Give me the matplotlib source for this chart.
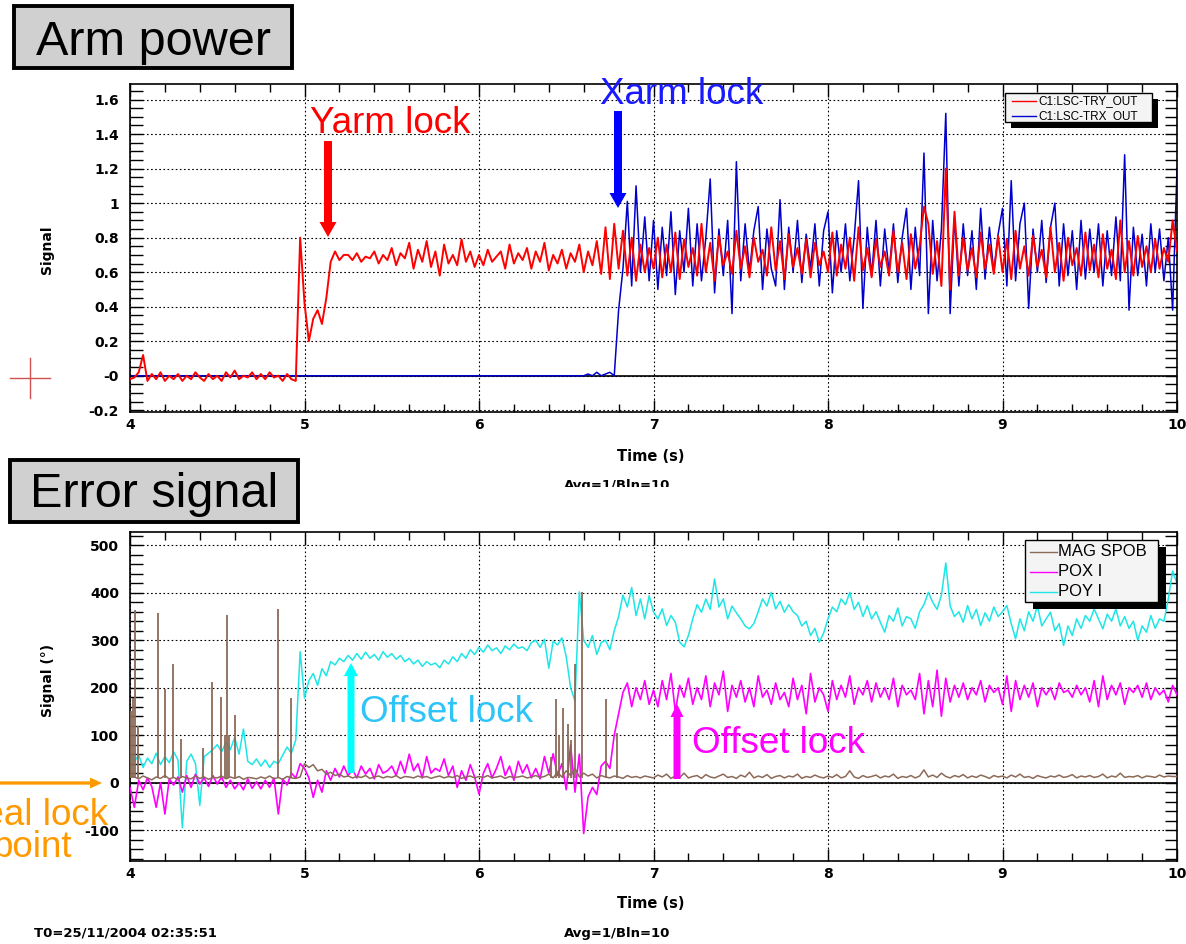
import numpy as np
import matplotlib
matplotlib.use("Agg")
import matplotlib.pyplot as plt
from matplotlib.patches import Rectangle, FancyArrowPatch
from matplotlib.lines import Line2D
from matplotlib.ticker import MultipleLocator
from matplotlib.transforms import Bbox, TransformedBbox

# ---- data (one sample every 0.025 s from 4 s to 10 s) ----
t_start, t_stop = 4.0, 10.0

try_out = [
    # 4 s
    -0.02, -0.01, 0.02, 0.12, -0.03, 0.01, -0.02, 0.02, -0.03, 0.00,
    -0.02, 0.01, -0.03, 0.00, -0.02, 0.02, -0.01, -0.03, 0.01, -0.02,
    0.00, -0.03, 0.02, -0.01, 0.03, -0.02, 0.00, -0.01, 0.02, -0.02,
    0.01, -0.02, 0.02, -0.01, 0.00, -0.03, 0.01, -0.02, -0.03, 0.80,
    # 5 s
    0.42, 0.20, 0.33, 0.38, 0.30, 0.45, 0.66, 0.72, 0.67, 0.70,
    0.70, 0.67, 0.71, 0.66, 0.69, 0.68, 0.72, 0.65, 0.70, 0.67,
    0.74, 0.64, 0.71, 0.68, 0.77, 0.62, 0.73, 0.66, 0.78, 0.63,
    0.72, 0.58, 0.76, 0.65, 0.70, 0.64, 0.79, 0.66, 0.72, 0.63,
    # 6 s
    0.70, 0.64, 0.73, 0.66, 0.69, 0.72, 0.62, 0.76, 0.65, 0.71,
    0.67, 0.74, 0.62, 0.72, 0.66, 0.77, 0.61, 0.70, 0.65, 0.73,
    0.62, 0.71, 0.66, 0.76, 0.60, 0.72, 0.64, 0.78, 0.59, 0.86,
    0.56, 0.88, 0.62, 0.84, 0.58, 0.80, 0.55, 0.76, 0.60, 0.74,
    # 7 s
    0.62, 0.80, 0.57, 0.76, 0.60, 0.83, 0.56, 0.79, 0.63, 0.74,
    0.58, 0.88, 0.60, 0.77, 0.55, 0.81, 0.64, 0.72, 0.59, 0.84,
    0.62, 0.75, 0.57, 0.80, 0.66, 0.73, 0.58, 0.86, 0.61, 0.78,
    0.56, 0.82, 0.63, 0.74, 0.59, 0.79, 0.57, 0.77, 0.64, 0.72,
    # 8 s
    0.60, 0.83, 0.58, 0.76, 0.62, 0.80, 0.55, 0.86, 0.61, 0.74,
    0.57, 0.79, 0.63, 0.72, 0.58, 0.84, 0.60, 0.77, 0.56, 0.82,
    0.62, 0.75, 0.98, 0.88, 0.59, 0.78, 0.52, 1.20, 0.50, 0.95,
    0.58, 0.80, 0.61, 0.74, 0.57, 0.83, 0.62, 0.76, 0.59, 0.81,
    # 9 s
    0.60, 0.79, 0.56, 0.84, 0.62, 0.75, 0.58, 0.81, 0.63, 0.73,
    0.57, 0.86, 0.60, 0.77, 0.55, 0.80, 0.64, 0.74, 0.58, 0.83,
    0.61, 0.76, 0.57, 0.82, 0.62, 0.73, 0.56, 0.90, 0.60, 0.78,
    0.58, 0.81, 0.63, 0.75, 0.60, 0.79, 0.62, 0.74, 0.66, 0.90,
    0.72,
]

trx_out = [0.0] * 104 + [0.0, 0.01, 0.0, 0.02, 0.0, 0.01, 0.02, 0.0] + [
    # 6.8 s
    0.38, 0.62, 1.01, 0.52, 1.10, 0.60, 0.92, 0.55,
    # 7 s
    0.90, 0.50, 0.86, 0.58, 0.95, 0.47, 0.84, 0.60, 0.97, 0.52,
    0.88, 0.55, 0.80, 1.14, 0.48, 0.85, 0.58, 0.90, 0.36, 1.24,
    0.55, 0.88, 0.60, 0.84, 0.98, 0.50, 0.85, 0.62, 0.52, 1.02,
    0.50, 0.86, 0.60, 0.90, 0.54, 0.82, 0.62, 0.88, 0.52, 0.84,
    # 8 s
    0.95, 0.48, 0.84, 0.60, 0.88, 0.55, 0.80, 1.13, 0.39, 0.86,
    0.58, 0.90, 0.52, 0.85, 0.60, 0.88, 0.54, 0.80, 0.97, 0.50,
    0.86, 0.58, 1.29, 0.36, 0.90, 0.55, 0.85, 1.52, 0.36, 0.92,
    0.52, 0.88, 0.58, 0.84, 0.50, 0.97, 0.56, 0.86, 0.60, 0.82,
    # 9 s
    0.97, 0.52, 1.13, 0.55, 0.88, 1.00, 0.39, 0.85, 0.60, 0.90,
    0.54, 0.86, 1.00, 0.52, 0.88, 0.58, 0.84, 0.50, 0.90, 0.56,
    0.85, 0.60, 0.88, 0.52, 0.84, 0.58, 0.92, 0.55, 1.28, 0.38,
    0.86, 0.58, 0.82, 0.52, 0.88, 0.60, 0.85, 0.55, 0.80, 0.38,
    1.20,
]

mag_spob = [
    15, 12, 8, 14, 10, 6, 12, 9, 15, 8,
    11, 7, 13, 10, 8, 14, 9, 12, 7, 11,
    10, 14, 8, 12, 9, 13, 7, 11, 10, 8,
    12, 9, 14, 8, 11, 7, 13, 10, 9, 12,
    40, 32, 38, 25, 28, 18, 22, 15, 18, 12,
    14, 10, 13, 11, 15, 9, 12, 14, 10, 13,
    11, 15, 9, 13, 12, 10, 14, 11, 13, 9,
    12, 14, 10, 13, 11, 15, 9, 12, 14, 10,
    13, 11, 15, 10, 12, 14, 9, 13, 11, 12,
    14, 10, 12, 15, 11, 13, 18, 10, 22, 12,
    25, 15, 30, 12, 20, 14, 18, 10, 15, 12,
    10, 14, 12, 9, 15, 11, 13, 10, 14, 12,
    10, 16, 12, 18, 9, 14, 11, 20, 10, 13,
    15, 9, 17, 12, 10, 14, 18, 11, 13, 9,
    16, 12, 22, 10, 14, 11, 17, 9, 13, 15,
    10, 14, 12, 18, 9, 13, 11, 16, 12, 10,
    14, 11, 17, 10, 13, 25, 12, 9, 15, 11,
    13, 16, 10, 14, 12, 18, 9, 13, 11, 15,
    10, 14, 27, 12, 16, 11, 20, 13, 10, 15,
    12, 17, 10, 14, 11, 16, 13, 9, 15, 12,
    14, 10, 16, 12, 18, 11, 13, 9, 15, 12,
    10, 14, 12, 16, 11, 13, 17, 10, 14, 12,
    15, 11, 13, 18, 10, 14, 12, 20, 11, 13,
    12, 15, 10, 14, 13, 11, 16, 12, 14, 13,
    13,
]

# narrow glitches on MAG SPOB
spike_t = [4.005, 4.015, 4.03, 4.045, 4.16, 4.20, 4.245, 4.29, 4.42, 4.47,
           4.52, 4.545, 4.555, 4.565, 4.60, 4.85, 4.92, 6.41, 6.44, 6.46,
           6.48, 6.51, 6.53, 6.55, 6.59, 6.73, 6.79]
spike_v = [150, 179, 364, 120, 358, 197, 251, 92, 73, 213,
           180, 100, 354, 100, 142, 366, 178, 55, 176, 100,
           157, 124, 90, 250, 402, 176, 104]
spike_base = 10

pox_i = [
    -10, -52, 5, -15, 10, -8, -52, 0, -66, 8,
    -5, 12, -20, 15, -10, 18, -3, 10, -8, 15,
    -3, 12, -10, 5, -13, 0, -15, 8, -12, 2,
    -13, 5, -10, 10, -66, 8, -5, 20, 10, 40,
    30, 10, -31, 5, -20, 25, 5, 30, 12, 35,
    15, 28, 10, 35, 18, 30, 8, 38, 20, 25,
    35, 15, 45, 20, 60, 25, 40, 10, 55, 20,
    30, 24, 50, 15, 35, -10, 25, 5, 38, 12,
    -24, 20, 40, 10, 30, 55, 15, 35, 5, 45,
    20, 38, 10, 30, 8, 55, 20, 61, 15, 40,
    -15, 80, -20, 60, -107, -30, -10, -25, 35, 45,
    30, 100, 145, 190, 210, 160, 200, 175, 215, 165,
    195, 160, 215, 175, 230, 150, 205, 180, 220, 165,
    200, 175, 225, 160, 210, 185, 235, 150, 205, 180,
    215, 170, 200, 160, 225, 180, 195, 165, 210, 175,
    190, 160, 220, 175, 205, 145, 230, 170, 200, 185,
    150, 215, 175, 205, 180, 225, 165, 200, 185, 215,
    170, 210, 180, 200, 175, 220, 160, 205, 185, 195,
    175, 230, 145, 215, 160, 237, 140, 220, 170, 205,
    180, 210, 175, 200, 185, 215, 170, 205, 190, 200,
    165, 225, 150, 215, 175, 205, 180, 210, 160, 200,
    185, 200, 175, 210, 190, 195, 180, 205, 185, 200,
    170, 215, 160, 225, 175, 205, 185, 210, 165, 200,
    190, 205, 180, 210, 175, 200, 185, 195, 170, 205,
    185,
]

poy_i = [
    60, 45, 58, 32, 52, 40, 62, 38, 55, 42,
    65, 48, -95, 45, 60, 40, -48, 55, 62, 70,
    80, 65, 85, 70, 95, 60, 113, 45, 38, 50,
    35, 48, 32, 45, 40, 58, 75, 62, 90, 276,
    178, 215, 230, 205, 240, 225, 255, 248, 262, 255,
    268, 258, 272, 260, 275, 262, 270, 258, 276, 264,
    272, 260, 268, 255, 262, 250, 258, 245, 255, 248,
    252, 242, 258, 250, 265, 255, 272, 262, 280, 270,
    285, 275, 290, 278, 284, 272, 288, 280, 292, 283,
    286, 278, 295, 300, 285, 302, 241, 298, 290, 305,
    265, 200, 172, 402, 300, 285, 310, 270, 295, 300,
    280, 320, 350, 395, 370, 411, 352, 387, 345, 394,
    360, 345, 366, 331, 352, 338, 296, 286, 310, 345,
    375, 359, 387, 365, 429, 370, 387, 345, 372, 358,
    345, 330, 324, 335, 360, 387, 372, 401, 366, 382,
    359, 375, 360, 352, 330, 340, 310, 325, 296, 315,
    345, 370, 360, 387, 375, 401, 365, 380, 350, 373,
    345, 360, 338, 317, 352, 340, 368, 330, 350, 345,
    325, 360, 375, 401, 380, 365, 395, 463, 372, 350,
    360, 338, 373, 345, 365, 331, 358, 340, 370, 350,
    360, 373, 335, 303, 345, 320, 360, 340, 373, 330,
    345, 359, 320, 335, 289, 330, 310, 345, 325, 352,
    340, 366, 345, 324, 355, 340, 366, 330, 350, 325,
    340, 300, 330, 317, 352, 325, 345, 340, 387, 446,
    420,
]

top_yticks = [-0.2, 0, 0.2, 0.4, 0.6, 0.8, 1.0, 1.2, 1.4, 1.6]
top_ylabels = ["-0.2", "-0", "0.2", "0.4", "0.6", "0.8", "1", "1.2", "1.4", "1.6"]
bot_yticks = [-100, 0, 100, 200, 300, 400, 500]
bot_ylabels = ["-100", "0", "100", "200", "300", "400", "500"]
xticks = [4, 5, 6, 7, 8, 9, 10]

t = np.linspace(t_start, t_stop, len(try_out))

# ---- figure ----
W, H = 1186, 944
plt.rcParams["font.family"] = "DejaVu Sans"
fig = plt.figure(figsize=(W / 100, H / 100), dpi=100, facecolor="white")


def fx(x):
    return x / W


def fy(y):
    return 1 - y / H


def make_axes(top, bottom):
    return fig.add_axes([fx(130), fy(bottom), (1177 - 130) / W, (bottom - top) / H])


def style(ax, ylim, yticks, ylabels, yminor):
    ax.set_xlim(t_start, t_stop)
    ax.set_ylim(*ylim)
    ax.set_xticks(xticks, [str(v) for v in xticks])
    ax.set_yticks(yticks, ylabels)
    ax.xaxis.set_minor_locator(MultipleLocator(0.2))
    ax.yaxis.set_minor_locator(MultipleLocator(yminor))
    ax.tick_params(which="both", direction="in", top=True, right=True,
                   width=1.0, color="k")
    ax.tick_params(axis="y", which="both", length=9, labelsize=10, pad=8)
    ax.tick_params(axis="x", which="major", length=9, labelsize=10, pad=4)
    ax.tick_params(axis="x", which="minor", length=6)
    for lab in ax.get_xticklabels() + ax.get_yticklabels():
        lab.set_fontweight("bold")
    ax.set_axisbelow(True)
    ax.grid(True, which="major", color="k", linestyle=(0, (1.5, 2.2)), linewidth=0.8)
    for s in ax.spines.values():
        s.set_linewidth(1.2)
    ax.axhline(0, color="k", lw=1.2, zorder=1.8)


ax1 = make_axes(84, 412)
style(ax1, (-0.21, 1.69), top_yticks, top_ylabels, 0.05)
ax1.plot(t, trx_out, color="#0000cc", lw=1.1, zorder=2)
ax1.plot(t, try_out, color="#ff0000", lw=1.4, zorder=3)

ax2 = make_axes(532, 861)
style(ax2, (-165, 528), bot_yticks, bot_ylabels, 20)
brown = "#8b6a58"
ax2.plot(t, poy_i, color="#1ee6e6", lw=1.1, zorder=2)
ax2.plot(t, pox_i, color="#ff00ff", lw=1.2, zorder=3)
ax2.plot(t, mag_spob, color=brown, lw=1.1, zorder=4)
ax2.vlines(spike_t, spike_base, spike_v, color=brown, lw=1.3, zorder=4)

# axis titles
fig.text(fx(47), fy(250), "Signal", rotation=90, ha="center", va="center",
         fontsize=10, fontweight="bold")
fig.text(fx(48), fy(680), "Signal (°)", rotation=90, ha="center", va="center",
         fontsize=10, fontweight="bold")
fig.text(fx(651), fy(456), "Time (s)", ha="center", va="center", fontsize=10.5, fontweight="bold")
fig.text(fx(651), fy(903), "Time (s)", ha="center", va="center", fontsize=10.5, fontweight="bold")
# second-line caption of the top plot, half hidden behind the lower panel
avg = fig.text(fx(617), fy(485), "Avg=1/Bln=10", ha="center", va="center",
               fontsize=9.5, fontweight="bold")
avg.set_clip_box(TransformedBbox(Bbox([[0, fy(486.5)], [1, 1]]), fig.transFigure))
avg.set_clip_on(True)
fig.text(fx(617), fy(933), "Avg=1/Bln=10", ha="center", va="center", fontsize=9.5, fontweight="bold")
fig.text(fx(125), fy(933), "T0=25/11/2004 02:35:51", ha="center", va="center",
         fontsize=9.5, fontweight="bold")


# legends with black drop shadow
def legend(x0, y0, x1, y1, dx, dy, entries, fs, lx0, lx1, tx):
    fig.add_artist(Rectangle((fx(x0 + dx), fy(y1 + dy)), (x1 - x0) / W, (y1 - y0) / H,
                             transform=fig.transFigure, facecolor="black", edgecolor="none"))
    fig.add_artist(Rectangle((fx(x0), fy(y1)), (x1 - x0) / W, (y1 - y0) / H,
                             transform=fig.transFigure, facecolor="#f4f4f4",
                             edgecolor="black", lw=1.0))
    for yy, col, label in entries:
        fig.add_artist(Line2D([fx(lx0), fx(lx1)], [fy(yy), fy(yy)], color=col, lw=1.0,
                              transform=fig.transFigure))
        fig.text(fx(tx), fy(yy), label, ha="left", va="center", fontsize=fs,
                 family="Liberation Sans")


legend(1005, 93, 1152, 122, 6, 6,
       [(101, "#ff0000", "C1:LSC-TRY_OUT"), (116, "#0000cc", "C1:LSC-TRX_OUT")],
       8.5, 1012, 1036, 1038)
legend(1025, 540, 1158, 602, 8, 7,
       [(552, brown, "MAG SPOB"), (572, "#ff00ff", "POX I"), (592, "#1ee6e6", "POY I")],
       12, 1030, 1057, 1058)

# grey title boxes
for (bx0, by0, bx1, by1), label, base in [((14, 6, 292, 68), "Arm power", 55),
                                          ((10, 460, 298, 522), "Error signal", 507)]:
    fig.add_artist(Rectangle((fx(bx0), fy(by1)), (bx1 - bx0) / W, (by1 - by0) / H,
                             transform=fig.transFigure, facecolor="#d0d0d0",
                             edgecolor="black", lw=2.8))
    fig.text(fx((bx0 + bx1) / 2), fy(base), label, ha="center", va="baseline",
             fontsize=35, family="Liberation Sans")


# annotation arrows
def arrow(x0, y0, x1, y1, color, shaft, head_w, head_l):
    ms = 10
    s = ms * 100 / 72
    style_ = (f"simple,tail_width={shaft / s:.3f},head_width={head_w / s:.3f},"
              f"head_length={head_l / s:.3f}")
    fig.add_artist(FancyArrowPatch((fx(x0), fy(y0)), (fx(x1), fy(y1)),
                                   transform=fig.transFigure, arrowstyle=style_,
                                   mutation_scale=ms, color=color, lw=0,
                                   shrinkA=0, shrinkB=0))


arrow(328, 141, 328, 237, "#ff0000", 8, 17, 15)
arrow(618, 111, 618, 208, "#0000ff", 8, 17, 15)
arrow(351, 773, 351, 663, "#00ffff", 7, 14, 13)
arrow(677, 779, 677, 704, "#ff00ff", 7, 13, 13)
arrow(-5, 783, 102, 783, "#ff9900", 3.3, 11, 12)

fs_note = 26.5
fig.text(fx(390), fy(133), "Yarm lock", color="#ff0000", fontsize=fs_note,
         family="Liberation Sans", ha="center", va="baseline")
fig.text(fx(682), fy(104), "Xarm lock", color="#1a1aff", fontsize=fs_note,
         family="Liberation Sans", ha="center", va="baseline")
fig.text(fx(446), fy(722), "Offset lock", color="#2ec4f8", fontsize=fs_note,
         family="Liberation Sans", ha="center", va="baseline")
fig.text(fx(778), fy(753), "Offset lock", color="#ff00ff", fontsize=fs_note,
         family="Liberation Sans", ha="center", va="baseline")
# the reference crops this label at the left edge of the slide
fig.text(fx(108), fy(825), "Ideal lock", color="#ff9900", fontsize=fs_note,
         family="Liberation Sans", ha="right", va="baseline")
fig.text(fx(32), fy(857), "point", color="#ff9900", fontsize=fs_note,
         family="Liberation Sans", ha="center", va="baseline")

# small red cross on the left
for xs, ys in [((10, 50), (378, 378)), ((30, 30), (358, 398))]:
    fig.add_artist(Line2D([fx(v) for v in xs], [fy(v) for v in ys], color="#d05050",
                          lw=1.0, transform=fig.transFigure))

fig.savefig("out.png", dpi=100, facecolor="white")
